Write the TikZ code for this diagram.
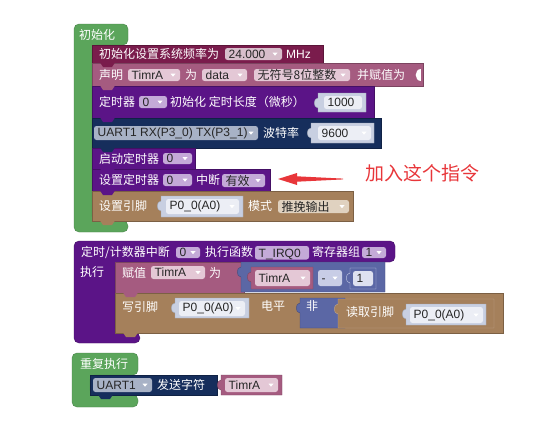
\documentclass[tikz,border=0pt]{standalone}
\usepackage{fontspec}
\setmainfont{Liberation Sans}
\newfontfamily\cjkf{Noto Sans CJK SC}
\definecolor{bgreen}{RGB}{91,165,91}
\definecolor{bmaroon}{RGB}{122,28,76}
\definecolor{bpink}{RGB}{165,91,128}
\definecolor{bpurple}{RGB}{91,20,135}
\definecolor{bnavy}{RGB}{22,46,92}
\definecolor{bbrown}{RGB}{165,128,91}
\definecolor{bblue}{RGB}{91,103,165}
\definecolor{fmaroon}{RGB}{215,190,203}
\definecolor{fpink}{RGB}{228,200,214}
\definecolor{fpurple}{RGB}{196,170,216}
\definecolor{fnavy}{RGB}{168,178,198}
\definecolor{fblue}{RGB}{200,205,230}
\definecolor{fbrown}{RGB}{224,210,192}
\definecolor{vblk}{RGB}{200,207,225}
\definecolor{vfld}{RGB}{236,238,245}
\definecolor{ared}{RGB}{232,54,58}
% row block
\newcommand\rb[5]{\filldraw[fill=#5,draw=#5!75!black,line width=0.4pt] (#1,#2) rectangle (#3,#4);}
% bottom tab of a statement block
\newcommand\bt[3]{\fill[#3] (#1+8,#2-0.5) -- (#1+11,#2+4) -- (#1+20,#2+4) -- (#1+23,#2-0.5) -- cycle;}
% value block with left output tab
\newcommand\vb[6]{\filldraw[fill=#5,draw=#6,line width=0.4pt] (#1,#2) -- (#3,#2) -- (#3,#4) -- (#1,#4) -- (#1,#2+15) .. controls (#1-5,#2+15) and (#1-5,#2+5) .. (#1,#2+5) -- cycle;}
% field: name x1 y1 x2 y2 fill text style arrow
\newcommand\fld[9]{%
 \fill[#6,rounded corners=2.5pt] (#2,#3) rectangle (#4,#5);
 \node[#8] (#1) at (#2+3.5,{(#3+#5)/2}) {#7};
 \ifx1#9\fill[white] (#4-9.5,{(#3+#5)/2-1.3}) -- (#4-4.5,{(#3+#5)/2-1.3}) -- (#4-7,{(#3+#5)/2+1.7}) -- cycle;\fi}
\begin{document}
\begin{tikzpicture}[x=1pt,y=-1pt,
 cn/.style={font=\cjkf\fontsize{12}{14}\selectfont,text=white,inner sep=0pt,anchor=west},
 en/.style={font=\fontsize{12}{14}\selectfont,text=white,inner sep=0pt,anchor=west},
 fcn/.style={cn,text=black!85},
 fen/.style={en,text=black!85},
 hat/.style={line width=0.4pt,rounded corners=5pt}]
\fill[white] (0,0) rectangle (546,431);
\useasboundingbox (0,0) rectangle (546,431);

% ---------- Block 1: 初始化 ----------
\filldraw[hat,fill=bgreen,draw=bgreen!80!black] (74,24) -- (128,24) -- (128,45) -- (92,45) -- (92,221) -- (128,221) -- (128,232) -- (74,232) -- cycle;
\node[cn] (g1) at (79,34.5) {初始化};
\rb{92}{45}{323}{63}{bmaroon}
\rb{92}{63}{423}{86}{bpink}
\rb{92}{86}{374}{118}{bpurple}
\rb{92}{118}{381}{148}{bnavy}
\rb{92}{148}{195}{169}{bpurple}
\rb{92}{169}{270}{191}{bpurple}
\rb{92}{191}{353}{221}{bbrown}
\bt{92}{63}{bmaroon}
\bt{92}{86}{bpink}
\bt{92}{118}{bpurple}
\bt{92}{148}{bnavy}
\bt{92}{169}{bpurple}
\bt{92}{191}{bpurple}
\bt{92}{221}{bbrown}
% row 1
\node[cn] (r1a) at (99,54) {初始化设置系统频率为};
\fld{r1b}{225}{48}{282}{60}{fmaroon}{24.000}{fen}{1}
\node[en] (r1c) at (286,54) {MHz};
% row 2
\node[cn] (r2a) at (99,75) {声明};
\fld{r2b}{128}{69}{180}{81}{fpink}{TimrA}{fen}{1}
\node[cn] (r2c) at (185,75) {为};
\fld{r2d}{202}{69}{247}{81}{fpink}{data}{fen}{1}
\fld{r2e}{254}{69}{350}{81}{fpink}{无符号8位整数}{fcn}{1}
\node[cn] (r2f) at (357,75) {并赋值为};
\fill[white] (421,69) .. controls (414,69) and (414,81) .. (421,81) -- cycle;
% row 3
\node[cn] (r3a) at (99,102) {定时器};
\fld{r3b}{139}{96}{167}{108}{fpurple}{0}{fen}{1}
\node[cn] (r3c) at (170,102) {初始化 定时长度（微秒）};
\vb{318}{93}{366}{112}{vblk}{vblk!80!black}
\fld{r3d}{324}{96}{362}{109}{vfld}{1000}{fen}{0}
% row 4
\fld{r4a}{94}{126}{258}{140}{fnavy}{UART1 RX(P3\_0) TX(P3\_1)}{fen}{1}
\node[cn] (r4b) at (263,133) {波特率};
\vb{311}{123}{374}{143}{vblk}{vblk!80!black}
\fld{r4c}{318}{126}{371}{140}{vfld}{9600}{fen}{1}
% row 5
\node[cn] (r5a) at (99,158.5) {启动定时器};
\fld{r5b}{163}{153}{192}{164}{fpurple}{0}{fen}{1}
% row 6
\node[cn] (r6a) at (99,180) {设置定时器};
\fld{r6b}{163}{174}{192}{186}{fpurple}{0}{fen}{1}
\node[cn] (r6c) at (196,180) {中断};
\fld{r6d}{222}{174}{265}{187}{fpurple}{有效}{fcn}{1}
% row 7
\node[cn] (r7a) at (99,206) {设置引脚};
\vb{161}{196}{243}{217}{vblk}{vblk!80!black}
\fld{r7b}{166}{199}{239}{214}{vfld}{P0\_0(A0)}{fen}{1}
\node[cn] (r7c) at (248,206) {模式};
\fld{r7d}{278}{200}{349}{213}{fbrown}{推挽输出}{fcn}{1}

% arrow and note
\fill[ared] (343,178.6) -- (297,176.3) -- (297,173) -- (278,179) -- (297,185) -- (297,181.7) -- (343,179.4) -- cycle;
\node[font=\cjkf\fontsize{19}{22}\selectfont,text=ared,anchor=west,inner sep=0pt] (note) at (365,173) {加入这个指令};

% ---------- Block 2: 定时/计数器中断 ----------
\filldraw[hat,fill=bpurple,draw=bpurple!75!black] (74,241) -- (395,241) -- (395,262) -- (115,262) -- (115,333) -- (140,333) -- (140,343) -- (74,343) -- cycle;
\node[cn] (p1) at (81,252) {定时/计数器中断};
\fld{p2}{176}{247}{200}{258}{fpurple}{0}{fen}{1}
\node[cn] (p3) at (205,252) {执行函数};
\fld{p4}{255}{246}{309}{259.5}{fpurple}{\raisebox{0pt}[8.6pt][0pt]{T\_IRQ0}}{fen}{0}
\node[cn] (p5) at (312,252) {寄存器组};
\fld{p6}{362}{247}{386}{258}{fpurple}{1}{fen}{1}
\node[cn] (p7) at (80,272) {执行};
% assign
\rb{115}{262}{244}{293}{bpink}
\rb{115}{293}{503}{333}{bbrown}
\bt{115}{293}{bpink}
\bt{115}{333}{bbrown}
\node[cn] (a1) at (122,272.5) {赋值};
\fld{a2}{151}{266}{205}{279}{fpink}{TimrA}{fen}{1}
\node[cn] (a3) at (209,272.5) {为};
\vb{241}{262}{385}{292}{bblue}{bblue!75!black}
\vb{251}{267}{313}{289}{bpink}{bpink!75!black}
\fld{a4}{255}{270}{310}{286}{fpink}{TimrA}{fen}{1}
\fld{a5}{318}{270}{342}{286}{fblue}{\raisebox{0pt}[8.6pt][0pt]{-}}{fen}{1}
\vb{350}{268}{376}{289}{bblue}{fblue}
\fld{a6}{353}{271}{373}{286}{fblue!60!white}{1}{fen}{0}
% write pin
\node[cn] (w1) at (122,307) {写引脚};
\vb{175}{298}{249}{318}{vblk}{vblk!80!black}
\fld{w2}{179}{301}{245}{316}{vfld}{P0\_0(A0)}{fen}{1}
\node[cn] (w3) at (261,306) {电平};
\vb{300}{298}{345}{328}{bblue}{bblue!75!black}
\node[cn] (w4) at (306,306) {非};
\vb{338}{299}{494}{328}{bbrown}{bbrown!70!white}
\node[cn] (w5) at (346,312) {读取引脚};
\vb{406}{304}{486}{325}{vblk}{vblk!80!black}
\fld{w6}{410}{307}{483}{323}{vfld}{P0\_0(A0)}{fen}{1}

% ---------- Block 3: 重复执行 ----------
\filldraw[hat,fill=bgreen,draw=bgreen!80!black] (72,353) -- (138,353) -- (138,375) -- (90,375) -- (90,395) -- (138,395) -- (138,407) -- (72,407) -- cycle;
\node[cn] (q1) at (80,363.5) {重复执行};
\rb{90}{375}{217}{395}{bnavy}
\bt{90}{395}{bnavy}
\fld{q2}{93}{378}{152}{392}{fnavy}{UART1}{fen}{1}
\node[cn] (q3) at (157,385) {发送字符};
\vb{221}{375}{282}{395}{bpink}{bpink!75!black}
\fld{q4}{225}{378}{278}{392}{fpink}{TimrA}{fen}{1}
\end{tikzpicture}
\end{document}
